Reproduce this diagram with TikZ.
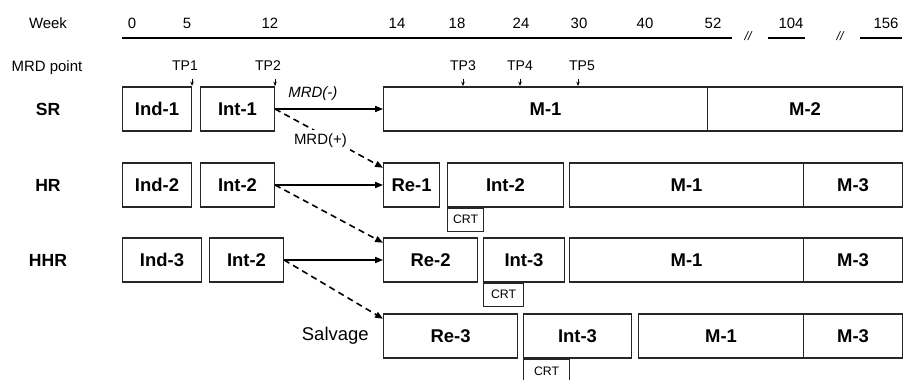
\documentclass[tikz,border=0pt]{standalone}
\usepackage{fontspec}
\setmainfont{Liberation Sans}
\usepackage{tikz}
\usetikzlibrary{arrows.meta,positioning}

\begin{document}
\begin{tikzpicture}[>=Stealth, line width=0.6pt,
  box/.style={draw=black!85, anchor=west, inner sep=0pt, minimum height=0.88cm, font=\fontsize{10.5}{12}\selectfont\bfseries},
  crt/.style={draw=black!85, anchor=north west, inner sep=0pt, minimum height=0.46cm, font=\fontsize{7}{8}\selectfont},
  hdr/.style={font=\fontsize{8.5}{10}\selectfont},
  tplbl/.style={font=\fontsize{8}{9}\selectfont},
  grp/.style={font=\fontsize{10}{12}\selectfont\bfseries},
  tpmark/.style={-{Stealth[length=2.5pt,width=2pt]}, line width=0.5pt},
  go/.style={-{Triangle[length=4.5pt,width=3.5pt]}, line width=0.7pt},
  alt/.style={go, dash pattern=on 3.5pt off 2.5pt, line width=0.9pt}]
\useasboundingbox (0,0) rectangle (18.06,7.6);
% week axis
\node[hdr] (week) at (0.96,7.14) {Week};
\draw (2.44,6.84) -- (14.64,6.84);
\node[font=\fontsize{7}{8}\selectfont\itshape] (brk1) at (14.96,6.88) {//};
\draw (15.36,6.84) -- (16.10,6.84);
\node[font=\fontsize{7}{8}\selectfont\itshape] (brk2) at (16.80,6.88) {//};
\draw (17.20,6.84) -- (18.04,6.84);
\node[hdr] (w0) at (2.64,7.14) {0};
\node[hdr] (w5) at (3.74,7.14) {5};
\node[hdr] (w12) at (5.40,7.14) {12};
\node[hdr] (w14) at (7.94,7.14) {14};
\node[hdr] (w18) at (9.14,7.14) {18};
\node[hdr] (w24) at (10.42,7.14) {24};
\node[hdr] (w30) at (11.58,7.14) {30};
\node[hdr] (w40) at (12.90,7.14) {40};
\node[hdr] (w52) at (14.26,7.14) {52};
\node[hdr] (w104) at (15.82,7.14) {104};
\node[hdr] (w156) at (17.72,7.14) {156};
% MRD time points
\node[hdr] (mrdpt) at (0.94,6.24) {MRD point};
\node[tplbl] (tp1) at (3.70,6.28) {TP1};
\node[tplbl] (tp2) at (5.36,6.28) {TP2};
\node[tplbl] (tp3) at (9.26,6.28) {TP3};
\node[tplbl] (tp4) at (10.40,6.28) {TP4};
\node[tplbl] (tp5) at (11.64,6.28) {TP5};
% SR row
\node[grp] (sr) at (0.96,5.42) {SR};
\node[box, minimum width=1.38cm] (ind1) at (2.44,5.42) {Ind-1};
\node[box, minimum width=1.48cm] (int1) at (4.00,5.42) {Int-1};
\node[box, minimum width=6.48cm] (srm1) at (7.66,5.42) {M-1};
\node[box, minimum width=3.90cm] (srm2) at (14.14,5.42) {M-2};
% HR row
\node[grp] (hr) at (0.96,3.90) {HR};
\node[box, minimum width=1.38cm] (ind2) at (2.44,3.90) {Ind-2};
\node[box, minimum width=1.48cm] (int2a) at (4.00,3.90) {Int-2};
\node[box, minimum width=1.12cm] (re1) at (7.66,3.90) {Re-1};
\node[box, minimum width=2.32cm] (hrint2) at (8.94,3.90) {Int-2};
\node[box, minimum width=4.68cm] (hrm1) at (11.38,3.90) {M-1};
\node[box, minimum width=1.98cm] (hrm3) at (16.06,3.90) {M-3};
\node[crt, minimum width=0.72cm] (crt1) at (hrint2.south west) {CRT};
% HHR row
\node[grp] (hhr) at (0.96,2.40) {HHR};
\node[box, minimum width=1.58cm] (ind3) at (2.44,2.40) {Ind-3};
\node[box, minimum width=1.48cm] (int2b) at (4.18,2.40) {Int-2};
\node[box, minimum width=1.88cm] (re2) at (7.66,2.40) {Re-2};
\node[box, minimum width=1.62cm] (hhrint3) at (9.66,2.40) {Int-3};
\node[box, minimum width=4.68cm] (hhrm1) at (11.38,2.40) {M-1};
\node[box, minimum width=1.98cm] (hhrm3) at (16.06,2.40) {M-3};
\node[crt, minimum width=0.80cm] (crt2) at (hhrint3.south west) {CRT};
% salvage row
\node[box, minimum width=2.68cm] (re3) at (7.66,0.88) {Re-3};
\node[box, minimum width=2.16cm] (svint3) at (10.46,0.88) {Int-3};
\node[box, minimum width=3.30cm] (svm1) at (12.76,0.88) {M-1};
\node[box, minimum width=1.98cm] (svm3) at (16.06,0.88) {M-3};
\node[crt, minimum width=0.92cm, minimum height=0.5cm] (crt3) at (svint3.south west) {CRT};
\node[font=\fontsize{10.5}{12}\selectfont, left=0.16cm of re3] (salv) {Salvage};
% TP marks
\draw[tpmark] ([yshift=-1pt]tp1.south -| ind1.east) -- ++(0,-0.14);
\draw[tpmark] ([yshift=-1pt]tp2.south -| int1.east) -- ++(0,-0.14);
\draw[tpmark] ([yshift=-1pt]tp3.south) -- ++(0,-0.14);
\draw[tpmark] ([yshift=-1pt]tp4.south) -- ++(0,-0.14);
\draw[tpmark] ([yshift=-1pt,xshift=-0.08cm]tp5.south) -- ++(0,-0.14);
% risk switching
\draw[go] (int1.east) -- node[pos=0.35, above, yshift=1pt, font=\fontsize{8.5}{10}\selectfont\itshape] (mrdneg) {MRD(-)} (srm1.west);
\draw[alt] (int1.east) -- node[pos=0.42, fill=white, inner sep=2pt, yshift=-0.14cm, font=\fontsize{8.5}{10}\selectfont] (mrdpos) {MRD(+)} ([yshift=-3pt]re1.north west);
\draw[go] (int2a.east) -- (re1.west);
\draw[alt] (int2a.east) -- ([yshift=-3pt]re2.north west);
\draw[go] (int2b.east) -- (re2.west);
\draw[alt] (int2b.east) -- ([yshift=-3pt]re3.north west);
\end{tikzpicture}
\end{document}
